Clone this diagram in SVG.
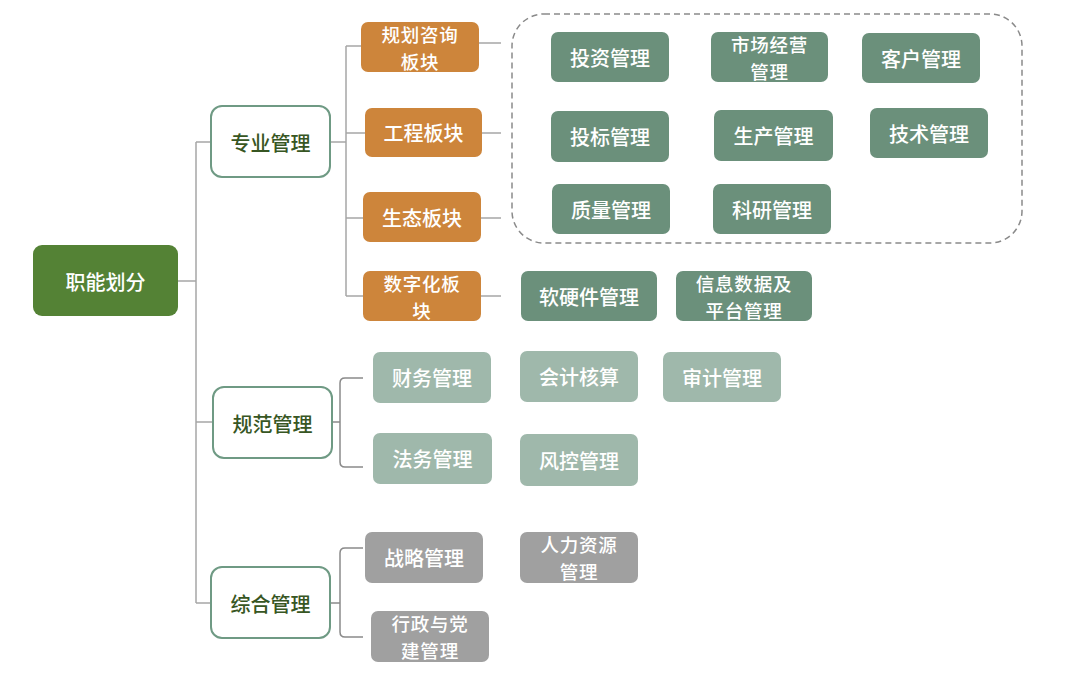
<svg xmlns="http://www.w3.org/2000/svg" width="1080" height="678" viewBox="0 0 1080 678">
<style>
text{font-family:"Noto Sans CJK SC","Noto Sans",sans-serif;font-size:20px;font-weight:500;text-anchor:middle;dominant-baseline:central;fill:#ffffff}
text.two{font-size:18.5px;letter-spacing:0.8px}
.root rect{fill:#548235}
.l1 rect{fill:#ffffff;stroke:#6f9a84;stroke-width:2}
.l1 text{fill:#375623}
.org rect{fill:#cd853b}
.dk rect{fill:#6b907b}
.lt rect{fill:#9fb8ab}
.gy rect{fill:#a0a0a0}
.con path{fill:none;stroke:#a6a6a6;stroke-width:1.5}
.con path.br{stroke:#8a8a8a}
</style>
<rect width="1080" height="678" fill="#ffffff"/>
<g class="con">
<path d="M178 281H196M196 142V603M196 142H211M196 422H213M196 603H211"/>
<path d="M330 142H346M346 46V296M346 46H361M346 133H365M346 218H363M346 296H363"/>
<path d="M479 43H501M482 133H501M481 218H501M481 296H501"/>
<path class="br" d="M332 422H340M363 378H345Q340 378 340 383V462Q340 467 345 467H363"/>
<path class="br" d="M330 603H340M363 548H345Q340 548 340 553V632Q340 637 345 637H363"/>
</g>
<rect x="512" y="14" width="510" height="229" rx="32" fill="none" stroke="#8a8a8a" stroke-width="1.5" stroke-dasharray="6 4"/>
<g id="n-root" class="root"><rect x="33" y="245" width="145" height="71" rx="9"/><text x="105.5" y="281">职能划分</text></g>
<g id="n-zygl" class="l1"><rect x="211" y="106" width="119" height="71" rx="11"/><text x="270.5" y="142">专业管理</text></g>
<g id="n-gfgl" class="l1"><rect x="213" y="387" width="119" height="71" rx="11"/><text x="272.5" y="423">规范管理</text></g>
<g id="n-zhgl" class="l1"><rect x="211" y="567" width="119" height="71" rx="11"/><text x="270.5" y="603">综合管理</text></g>
<g id="n-ghzx" class="org"><rect x="361" y="22" width="118" height="50" rx="7"/><text class="two"><tspan x="420" y="33.5">规划咨询</tspan><tspan x="420" dy="27">板块</tspan></text></g>
<g id="n-gc" class="org"><rect x="365" y="108" width="117" height="49" rx="7"/><text x="423.5" y="132.5">工程板块</text></g>
<g id="n-st" class="org"><rect x="363" y="192" width="118" height="50" rx="7"/><text x="422" y="217">生态板块</text></g>
<g id="n-szh" class="org"><rect x="363" y="271" width="118" height="50" rx="7"/><text class="two"><tspan x="422" y="282.5">数字化板</tspan><tspan x="422" dy="27">块</tspan></text></g>
<g id="n-tz" class="dk"><rect x="551" y="32" width="118" height="50" rx="7"/><text x="610" y="57">投资管理</text></g>
<g id="n-scjy" class="dk"><rect x="711" y="32" width="117" height="50" rx="7"/><text class="two"><tspan x="769.5" y="43.5">市场经营</tspan><tspan x="769.5" dy="27">管理</tspan></text></g>
<g id="n-kh" class="dk"><rect x="862" y="33" width="118" height="50" rx="7"/><text x="921" y="58">客户管理</text></g>
<g id="n-tb" class="dk"><rect x="551" y="111" width="118" height="51" rx="7"/><text x="610" y="136.5">投标管理</text></g>
<g id="n-sc" class="dk"><rect x="714" y="110" width="119" height="51" rx="7"/><text x="773.5" y="135.5">生产管理</text></g>
<g id="n-js" class="dk"><rect x="870" y="108" width="118" height="50" rx="7"/><text x="929" y="133">技术管理</text></g>
<g id="n-zl" class="dk"><rect x="552" y="184" width="118" height="50" rx="7"/><text x="611" y="209">质量管理</text></g>
<g id="n-ky" class="dk"><rect x="713" y="184" width="118" height="50" rx="7"/><text x="772" y="209">科研管理</text></g>
<g id="n-ryj" class="dk"><rect x="521" y="271" width="136" height="50" rx="7"/><text x="589" y="296">软硬件管理</text></g>
<g id="n-xxsj" class="dk"><rect x="676" y="271" width="136" height="50" rx="7"/><text class="two"><tspan x="744" y="282.5">信息数据及</tspan><tspan x="744" dy="27">平台管理</tspan></text></g>
<g id="n-cw" class="lt"><rect x="373" y="352" width="118" height="51" rx="7"/><text x="432" y="377.5">财务管理</text></g>
<g id="n-kj" class="lt"><rect x="520" y="351" width="118" height="51" rx="7"/><text x="579" y="376.5">会计核算</text></g>
<g id="n-sj" class="lt"><rect x="663" y="352" width="118" height="50" rx="7"/><text x="722" y="377">审计管理</text></g>
<g id="n-fw" class="lt"><rect x="373" y="433" width="119" height="51" rx="7"/><text x="432.5" y="458.5">法务管理</text></g>
<g id="n-fk" class="lt"><rect x="520" y="434" width="118" height="52" rx="7"/><text x="579" y="460">风控管理</text></g>
<g id="n-zlue" class="gy"><rect x="365" y="532" width="118" height="51" rx="7"/><text x="424" y="557.5">战略管理</text></g>
<g id="n-rlzy" class="gy"><rect x="520" y="532" width="118" height="51" rx="7"/><text class="two"><tspan x="579" y="544">人力资源</tspan><tspan x="579" dy="27">管理</tspan></text></g>
<g id="n-xz" class="gy"><rect x="371" y="611" width="118" height="51" rx="7"/><text class="two"><tspan x="430" y="623">行政与党</tspan><tspan x="430" dy="27">建管理</tspan></text></g>
</svg>
